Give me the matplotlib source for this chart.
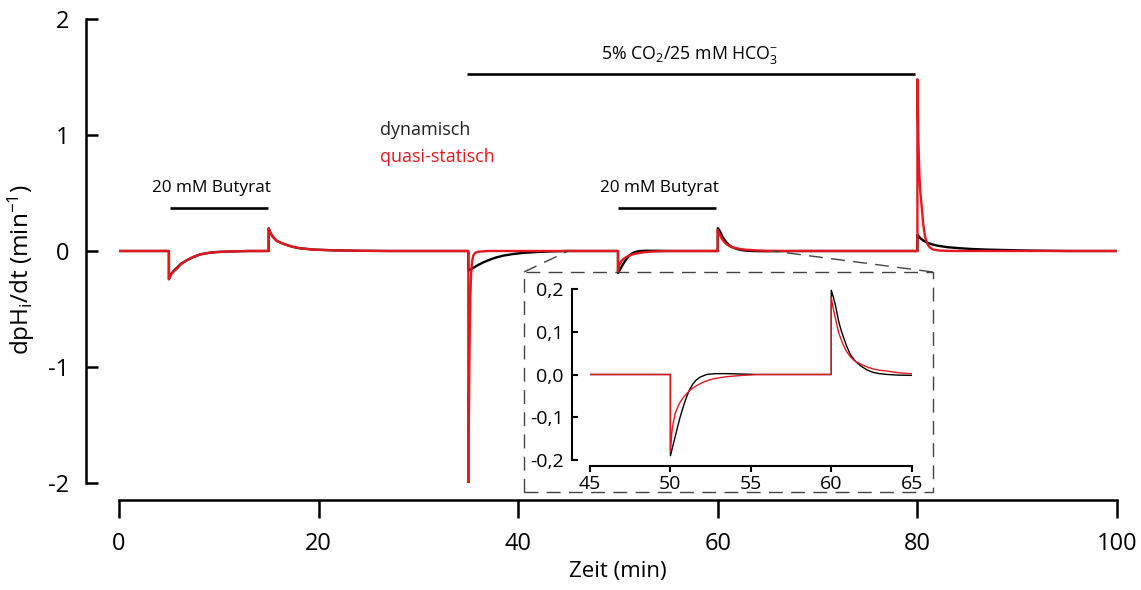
import matplotlib
matplotlib.use("Agg")
import matplotlib.pyplot as plt
from matplotlib.patches import Rectangle
from matplotlib.lines import Line2D
from matplotlib.ticker import FuncFormatter

plt.rcParams["font.family"] = ["Open Sans", "DejaVu Sans"]
plt.rcParams["mathtext.default"] = "regular"
plt.rcParams["axes.unicode_minus"] = False

RED = "#e3191f"

# dynamic model trace (time in min, dpHi/dt in 1/min)
t_dyn = [0, 5, 5, 5.2, 5.5, 5.8, 6.2, 6.8, 7.4, 8.1, 9.0, 9.8, 11.5, 13,
         15, 15, 15.2, 15.5, 15.8, 16.3, 16.8, 17.4, 18.1, 19.5, 21.4, 24, 27,
         35, 35, 35.5, 36, 36.5, 37, 37.7, 38.5, 39.5, 40.5, 42, 43.5, 45,
         50, 50, 50.15, 50.3, 50.45, 50.6, 50.8, 51.0, 51.2, 51.4, 51.6, 51.85,
         52.25, 52.8, 53.5, 54.5, 55.5,
         60, 60, 60.12, 60.24, 60.35, 60.45, 60.6, 60.76, 60.95, 61.17, 61.45,
         61.8, 62.2, 62.6, 63, 63.5, 64.2, 65, 66.5, 68,
         80, 80, 80.3, 80.6, 80.9, 81.4, 82, 83, 84.2, 85.5, 87, 89, 91, 93, 95,
         100]
v_dyn = [0, 0, -0.24, -0.2, -0.17, -0.145, -0.11, -0.08, -0.055, -0.03, -0.016, -0.009, -0.003, 0,
         0, 0.195, 0.15, 0.115, 0.088, 0.068, 0.052, 0.036, 0.024, 0.012, 0.006, 0.002, 0,
         0, -0.17, -0.145, -0.12, -0.098, -0.08, -0.058, -0.04, -0.026, -0.016, -0.008, -0.003, 0,
         0, -0.19, -0.167, -0.145, -0.122, -0.1, -0.075, -0.053, -0.035, -0.022, -0.013, -0.006,
         0.0, 0.002, 0.002, 0.001, 0,
         0, 0.197, 0.182, 0.165, 0.145, 0.126, 0.105, 0.087, 0.067, 0.048, 0.033,
         0.021, 0.011, 0.005, 0.002, 0, -0.0015, -0.002, -0.001, 0,
         0, 0.14, 0.11, 0.09, 0.075, 0.059, 0.046, 0.033, 0.024, 0.017, 0.012, 0.008, 0.004, 0.002, 0,
         0]

# quasi-static model trace
t_qs = [0, 5, 5, 5.2, 5.5, 5.77, 6.2, 6.77, 7.4, 8.1, 9.0, 9.8, 11.5, 13,
        15, 15, 15.2, 15.5, 15.8, 16.3, 16.8, 17.4, 18.1, 19.5, 21.4, 24, 27,
        35, 35, 35.05, 35.1, 35.15, 35.2, 35.28, 35.38, 35.5, 35.7, 36, 37,
        50, 50, 50.1, 50.2, 50.29, 50.45, 50.6, 50.8, 51.0, 51.3, 51.63, 52.1,
        52.67, 53.5, 54.5, 55.5,
        60, 60, 60.1, 60.24, 60.45, 60.6, 60.76, 60.95, 61.17, 61.45, 61.8,
        62.2, 62.6, 63, 63.46, 64.2, 64.9, 66, 67,
        80, 80, 80.1, 80.2, 80.3, 80.43, 80.6, 80.77, 81.0, 81.27, 81.6, 82.2,
        83, 84, 100]
v_qs = [0, 0, -0.245, -0.205, -0.175, -0.155, -0.115, -0.08, -0.052, -0.03, -0.016, -0.009, -0.003, 0,
        0, 0.195, 0.15, 0.115, 0.088, 0.068, 0.052, 0.036, 0.024, 0.012, 0.006, 0.002, 0,
        0, -2.02, -1.55, -1.05, -0.65, -0.4, -0.2, -0.09, -0.04, -0.015, -0.006, 0,
        0, -0.18, -0.13, -0.108, -0.092, -0.076, -0.065, -0.054, -0.045, -0.034, -0.026, -0.017,
        -0.01, -0.005, -0.002, 0,
        0, 0.181, 0.158, 0.134, 0.099, 0.083, 0.068, 0.054, 0.042, 0.032, 0.025,
        0.018, 0.013, 0.010, 0.008, 0.004, 0.002, 0.001, 0,
        0, 1.48, 0.95, 0.66, 0.5, 0.38, 0.22, 0.12, 0.06, 0.028, 0.012, 0.004,
        0.001, 0, 0]

# application periods
butyrate_periods = [(5.1, 14.9), (50.0, 59.8)]
butyrate_label = "20 mM Butyrat"
co2_period = (34.9, 79.8)
co2_label = "5% CO$_2$/25 mM HCO$_3^{-}$"

main_xticks = [0, 20, 40, 60, 80, 100]
main_yticks = [-2, -1, 0, 1, 2]
inset_xticks = [45, 50, 55, 60, 65]
inset_yticks = [-0.2, -0.1, 0.0, 0.1, 0.2]

W, H = 1141, 590
fig = plt.figure(figsize=(W / 100, H / 100), dpi=100)


def px_box(x0, y0, x1, y1):
    # pixel box (top-left origin) -> figure fraction [left, bottom, width, height]
    return [x0 / W, 1 - y1 / H, (x1 - x0) / W, (y1 - y0) / H]


ax = fig.add_axes(px_box(119, 19, 1117, 483))
ax.plot(t_dyn, v_dyn, color="black", lw=1.7, solid_joinstyle="round")
ax.plot(t_qs, v_qs, color=RED, lw=1.7, solid_joinstyle="round")
ax.set_xlim(0, 100)
ax.set_ylim(-2, 2)
for s in ("top", "right"):
    ax.spines[s].set_visible(False)
ax.spines["left"].set_position(("outward", 24))
ax.spines["bottom"].set_position(("outward", 12))
ax.spines["left"].set_bounds(-2, 2)
ax.spines["bottom"].set_bounds(0, 100)
for s in ("left", "bottom"):
    ax.spines[s].set_linewidth(1.8)
ax.set_xticks(main_xticks)
ax.set_yticks(main_yticks)
ax.tick_params(axis="y", direction="in", length=8.5, width=1.8, labelsize=17, pad=12)
ax.tick_params(axis="x", direction="out", length=13, width=1.8, labelsize=17, pad=10)
ax.set_xlabel("Zeit (min)", fontsize=16, labelpad=4)
ax.set_ylabel("dpH$_i$/dt (min$^{-1}$)", fontsize=17.5, labelpad=8)
ax.yaxis.set_label_coords(-0.082, 0.46)

# treatment bars
for (a, b) in butyrate_periods:
    ax.plot([a, b], [0.37, 0.37], color="black", lw=1.9, solid_capstyle="butt")
    ax.text((a + b) / 2 - 0.7, 0.54, butyrate_label, ha="center", va="center", fontsize=12.3)
ax.plot(list(co2_period), [1.53, 1.53], color="black", lw=1.9, solid_capstyle="butt")
ax.text(57.2, 1.69, co2_label, ha="center", va="center", fontsize=12.8)

ax.text(26.15, 1.04, "dynamisch", ha="left", va="center", fontsize=13, color="#222222")
ax.text(26.15, 0.81, "quasi-statisch", ha="left", va="center", fontsize=13, color=RED)

# zoom inset
axi = fig.add_axes(px_box(590, 289, 911.7, 460))
axi.plot(t_dyn, v_dyn, color="black", lw=1.0)
axi.plot(t_qs, v_qs, color=RED, lw=1.0)
axi.set_xlim(45, 65)
axi.set_ylim(-0.2, 0.2)
for s in ("top", "right"):
    axi.spines[s].set_visible(False)
axi.spines["left"].set_position(("outward", 13))
axi.spines["bottom"].set_position(("outward", 4.3))
axi.spines["left"].set_bounds(-0.2, 0.2)
axi.spines["bottom"].set_bounds(45, 65)
for s in ("left", "bottom"):
    axi.spines[s].set_linewidth(1.5)
axi.set_xticks(inset_xticks)
axi.set_yticks(inset_yticks)
axi.yaxis.set_major_formatter(FuncFormatter(lambda v, p: f"{v:.1f}".replace(".", ",").replace("-0,0", "0,0")))
axi.tick_params(axis="y", direction="in", length=4.3, width=1.5, labelsize=14, pad=6)
axi.tick_params(axis="x", direction="out", length=4.3, width=1.5, labelsize=14, pad=2)
axi.patch.set_alpha(0)

# dashed frame around the inset and connectors to the zoomed range
dash = dict(color="#444444", lw=1.0, dashes=(10, 6))
fx0, fy0, fw, fh = px_box(524, 272, 933, 492)
fig.add_artist(Rectangle((fx0, fy0), fw, fh, transform=fig.transFigure, fill=False,
                         edgecolor="#444444", lw=1.0, linestyle=(0, (10, 6))))
to_fig = fig.transFigure.inverted()
for xd, cx in ((45, fx0), (65.5, fx0 + fw)):
    px, py = to_fig.transform(ax.transData.transform((xd, 0)))
    fig.add_artist(Line2D([cx, px], [fy0 + fh, py], transform=fig.transFigure, **dash))

fig.savefig("out.png", dpi=100)
